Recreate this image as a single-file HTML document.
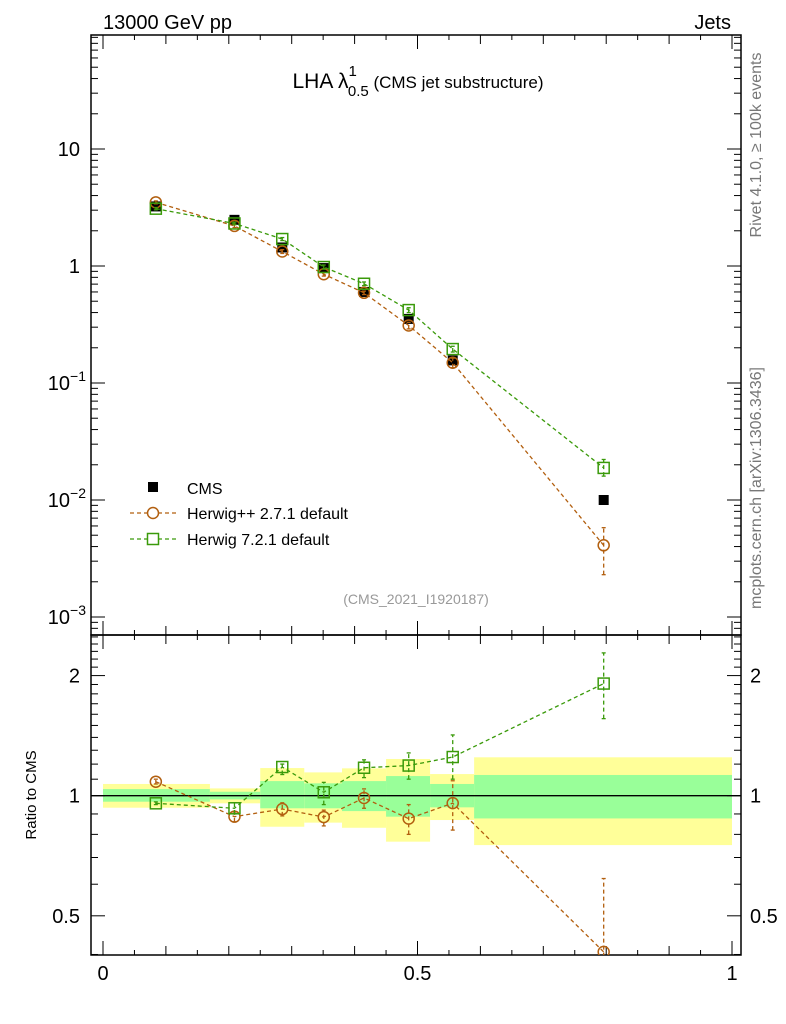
<!DOCTYPE html>
<html><head><meta charset="utf-8"><style>
body{margin:0;background:#fff}
svg{display:block;font-family:"Liberation Sans",sans-serif}
</style></head><body>
<svg id="c" width="786" height="1024" viewBox="0 0 786 1024">
<defs><clipPath id="rc"><rect x="91" y="635" width="650" height="320"/></clipPath></defs>
<text x="103" y="29" font-size="20">13000 GeV pp</text>
<text x="731" y="29" font-size="20" text-anchor="end">Jets</text>
<text x="418" y="88" font-size="21" text-anchor="middle">LHA λ<tspan font-size="15" dy="-12">1</tspan><tspan font-size="15" dx="-9" dy="20">0.5</tspan><tspan font-size="17" dy="-8"> (CMS jet substructure)</tspan></text>
<text transform="translate(761,145) rotate(-90)" font-size="16" fill="#777" text-anchor="middle">Rivet 4.1.0, ≥ 100k events</text>
<text transform="translate(761,488) rotate(-90)" font-size="16" fill="#777" text-anchor="middle">mcplots.cern.ch [arXiv:1306.3436]</text>
<text x="416" y="604" font-size="14" fill="#999" text-anchor="middle">(CMS_2021_I1920187)</text>
<text transform="translate(36,795) rotate(-90)" font-size="15" text-anchor="middle">Ratio to CMS</text>
<g id="g"></g>
</svg>
<script>
const binEdges=[0,0.17,0.25,0.32,0.38,0.45,0.52,0.59,1.0];
const xCenters=[0.084,0.209,0.285,0.351,0.415,0.486,0.556,0.796];
const cmsVals=[3.23,2.48,1.44,0.96,0.60,0.353,0.156,0.0100];
const hppVals=[3.50,2.20,1.33,0.85,0.59,0.31,0.149,0.0041];
const hppLo=[3.40,2.13,1.28,0.82,0.57,0.29,0.135,0.0023];
const hppHi=[3.60,2.27,1.38,0.88,0.61,0.33,0.163,0.0058];
const h7Vals=[3.09,2.31,1.70,0.98,0.705,0.42,0.195,0.0188];
const h7Lo=[3.02,2.25,1.65,0.94,0.68,0.40,0.184,0.0160];
const h7Hi=[3.16,2.37,1.75,1.02,0.73,0.44,0.206,0.0222];
const hppRatio=[1.084,0.886,0.926,0.884,0.987,0.876,0.958,0.406];
const hppRatioLo=[1.07,0.86,0.89,0.84,0.93,0.80,0.82,0.35];
const hppRatioHi=[1.10,0.91,0.96,0.92,1.04,0.95,1.09,0.62];
const h7Ratio=[0.957,0.93,1.18,1.02,1.175,1.19,1.25,1.91];
const h7RatioLo=[0.95,0.90,1.13,0.95,1.11,1.10,1.10,1.56];
const h7RatioHi=[0.965,0.96,1.20,1.08,1.23,1.28,1.42,2.28];
const yellowLo=[0.933,0.957,0.836,0.856,0.831,0.767,0.869,0.752];
const yellowHi=[1.07,1.043,1.173,1.144,1.171,1.236,1.133,1.248];
const greenLo=[0.966,0.979,0.930,0.930,0.915,0.886,0.935,0.877];
const greenHi=[1.039,1.023,1.088,1.074,1.088,1.120,1.070,1.127];
const mainTicks=[0.001,0.01,0.1,1,10];
const mainTickLabels=["10^-3","10^-2","10^-1","1","10"];
const ratioTicks=[0.5,1,2];
const ratioTickLabels=["0.5","1","2"];
const xTicks=[0,0.5,1];
const xTickLabels=["0","0.5","1"];

const L=91,R=741,T=35,M=635,B=955;
const X=v=>103+v*629;
const Y=v=>266-117*Math.log10(v);
const YR=v=>795.7-399*Math.log10(v);
const NS="http://www.w3.org/2000/svg";
const root=document.getElementById('g');
let g=root;
function mk(t,a,nm){const e=document.createElementNS(NS,t);for(const k in a)e.setAttribute(k,a[k]);g.appendChild(e);return e;}
function line(x1,y1,x2,y2,st,w,da,nm){const e=mk('line',{x1,y1,x2,y2,stroke:st,'stroke-width':w||1},nm);if(da)e.setAttribute('stroke-dasharray',da);return e;}
for(let i=0;i<8;i++){
 mk('rect',{x:X(binEdges[i]),y:YR(yellowHi[i]),width:X(binEdges[i+1])-X(binEdges[i]),height:YR(yellowLo[i])-YR(yellowHi[i]),fill:'#ffff99'},'yellow-band');
 mk('rect',{x:X(binEdges[i]),y:YR(greenHi[i]),width:X(binEdges[i+1])-X(binEdges[i]),height:YR(greenLo[i])-YR(greenHi[i]),fill:'#99ff99'},'green-band');
}
line(L,YR(1),R,YR(1),'#000',1.3,null,'ratio-unity-line');
mk('rect',{x:L,y:T,width:R-L,height:M-T,fill:'none',stroke:'#000','stroke-width':1.5},'main-frame');
mk('rect',{x:L,y:M,width:R-L,height:B-M,fill:'none',stroke:'#000','stroke-width':1.5},'ratio-frame');
for(let d=-4;d<=2;d++)for(let k=1;k<10;k++){const v=k*Math.pow(10,d);const y=Y(v);if(y<T||y>M)continue;const len=k==1?14:7;
 line(L,y,L+len,y,'#000',1,null,'y-tick');line(R,y,R-len,y,'#000',1,null,'y-tick');}
mainTicks.forEach((v,i)=>{const s=mainTickLabels[i];const t=mk('text',{x:80,y:Y(v)+7,'font-size':20,'text-anchor':'end'},'y-tick-label');
 if(s.startsWith('10^')){t.textContent='10';const ts=document.createElementNS(NS,'tspan');ts.setAttribute('font-size','14');ts.setAttribute('dy','-9');ts.textContent=s.slice(3).replace('-','−');t.appendChild(ts);t.setAttribute('x',86);}else t.textContent=s;});
for(let k=4;k<=25;k++){const v=k/10;const y=YR(v);if(y<M||y>B)continue;const len=(v==0.5||v==1||v==2)?14:7;
 line(L,y,L+len,y,'#000',1,null,'ratio-tick');line(R,y,R-len,y,'#000',1,null,'ratio-tick');}
ratioTicks.forEach((v,i)=>{const a=mk('text',{x:80,y:YR(v)+7,'font-size':20,'text-anchor':'end'},'ratio-tick-label');a.textContent=ratioTickLabels[i];
 const b=mk('text',{x:750,y:YR(v)+7,'font-size':20},'ratio-tick-label-right');b.textContent=ratioTickLabels[i];});
for(let k=0;k<=20;k++){const v=k*0.05,x=X(v);const len=(k%10==0)?14:(k%2==0?9:5);
 line(x,B,x,B-len,'#000',1,null,'x-tick');line(x,M,x,M-len,'#000',1,null,'x-tick');line(x,M,x,M+len,'#000',1,null,'x-tick');line(x,T,x,T+len,'#000',1,null,'x-tick');}
xTicks.forEach((v,i)=>{const t=mk('text',{x:X(v),y:980,'font-size':20,'text-anchor':'middle'},'x-tick-label');t.textContent=xTickLabels[i];});
function series(vals,lo,hi,yf,col,shape,nm){
 const pts=vals.map((v,i)=>X(xCenters[i])+','+yf(v)).join(' ');
 mk('polyline',{points:pts,fill:'none',stroke:col,'stroke-width':1.3,'stroke-dasharray':'4,3'},nm+'-line');
 vals.forEach((v,i)=>{const x=X(xCenters[i]);
  line(x,yf(lo[i]),x,yf(hi[i]),col,1.3,'4,3',nm+'-error-bar');
  line(x-2,yf(lo[i]),x+2,yf(lo[i]),col,1.3,null,nm+'-error-cap');line(x-2,yf(hi[i]),x+2,yf(hi[i]),col,1.3,null,nm+'-error-cap');
  if(shape=='c')mk('circle',{cx:x,cy:yf(v),r:5.5,fill:'none',stroke:col,'stroke-width':1.5},nm+'-marker');
  else mk('rect',{x:x-5.5,y:yf(v)-5.5,width:11,height:11,fill:'none',stroke:col,'stroke-width':1.5},nm+'-marker');});
}
cmsVals.forEach((v,i)=>mk('rect',{x:X(xCenters[i])-5,y:Y(v)-5,width:10,height:10,fill:'#000'},'cms-marker'));
series(hppVals,hppLo,hppHi,Y,'#b25f0f','c','herwigpp');
series(h7Vals,h7Lo,h7Hi,Y,'#3a9a0a','s','herwig7');
const cg=document.createElementNS(NS,'g');cg.setAttribute('clip-path','url(#rc)');


root.appendChild(cg);g=cg;
series(hppRatio,hppRatioLo,hppRatioHi,YR,'#b25f0f','c','herwigpp-ratio');
series(h7Ratio,h7RatioLo,h7RatioHi,YR,'#3a9a0a','s','herwig7-ratio');
g=root;
mk('rect',{x:148,y:482,width:10,height:10,fill:'#000'},'legend-cms-marker');
let t=mk('text',{x:187,y:494,'font-size':16},'legend-cms');t.textContent='CMS';
line(130,513,176,513,'#b25f0f',1.3,'4,3','legend-herwigpp-line');mk('circle',{cx:153,cy:513,r:5.5,fill:'#fff',stroke:'#b25f0f','stroke-width':1.5},'legend-herwigpp-marker');
t=mk('text',{x:187,y:519,'font-size':16},'legend-herwigpp');t.textContent='Herwig++ 2.7.1 default';
line(130,539,176,539,'#3a9a0a',1.3,'4,3','legend-herwig7-line');mk('rect',{x:147.5,y:533.5,width:11,height:11,fill:'#fff',stroke:'#3a9a0a','stroke-width':1.5},'legend-herwig7-marker');
t=mk('text',{x:187,y:545,'font-size':16},'legend-herwig7');t.textContent='Herwig 7.2.1 default';
</script>
</body></html>
